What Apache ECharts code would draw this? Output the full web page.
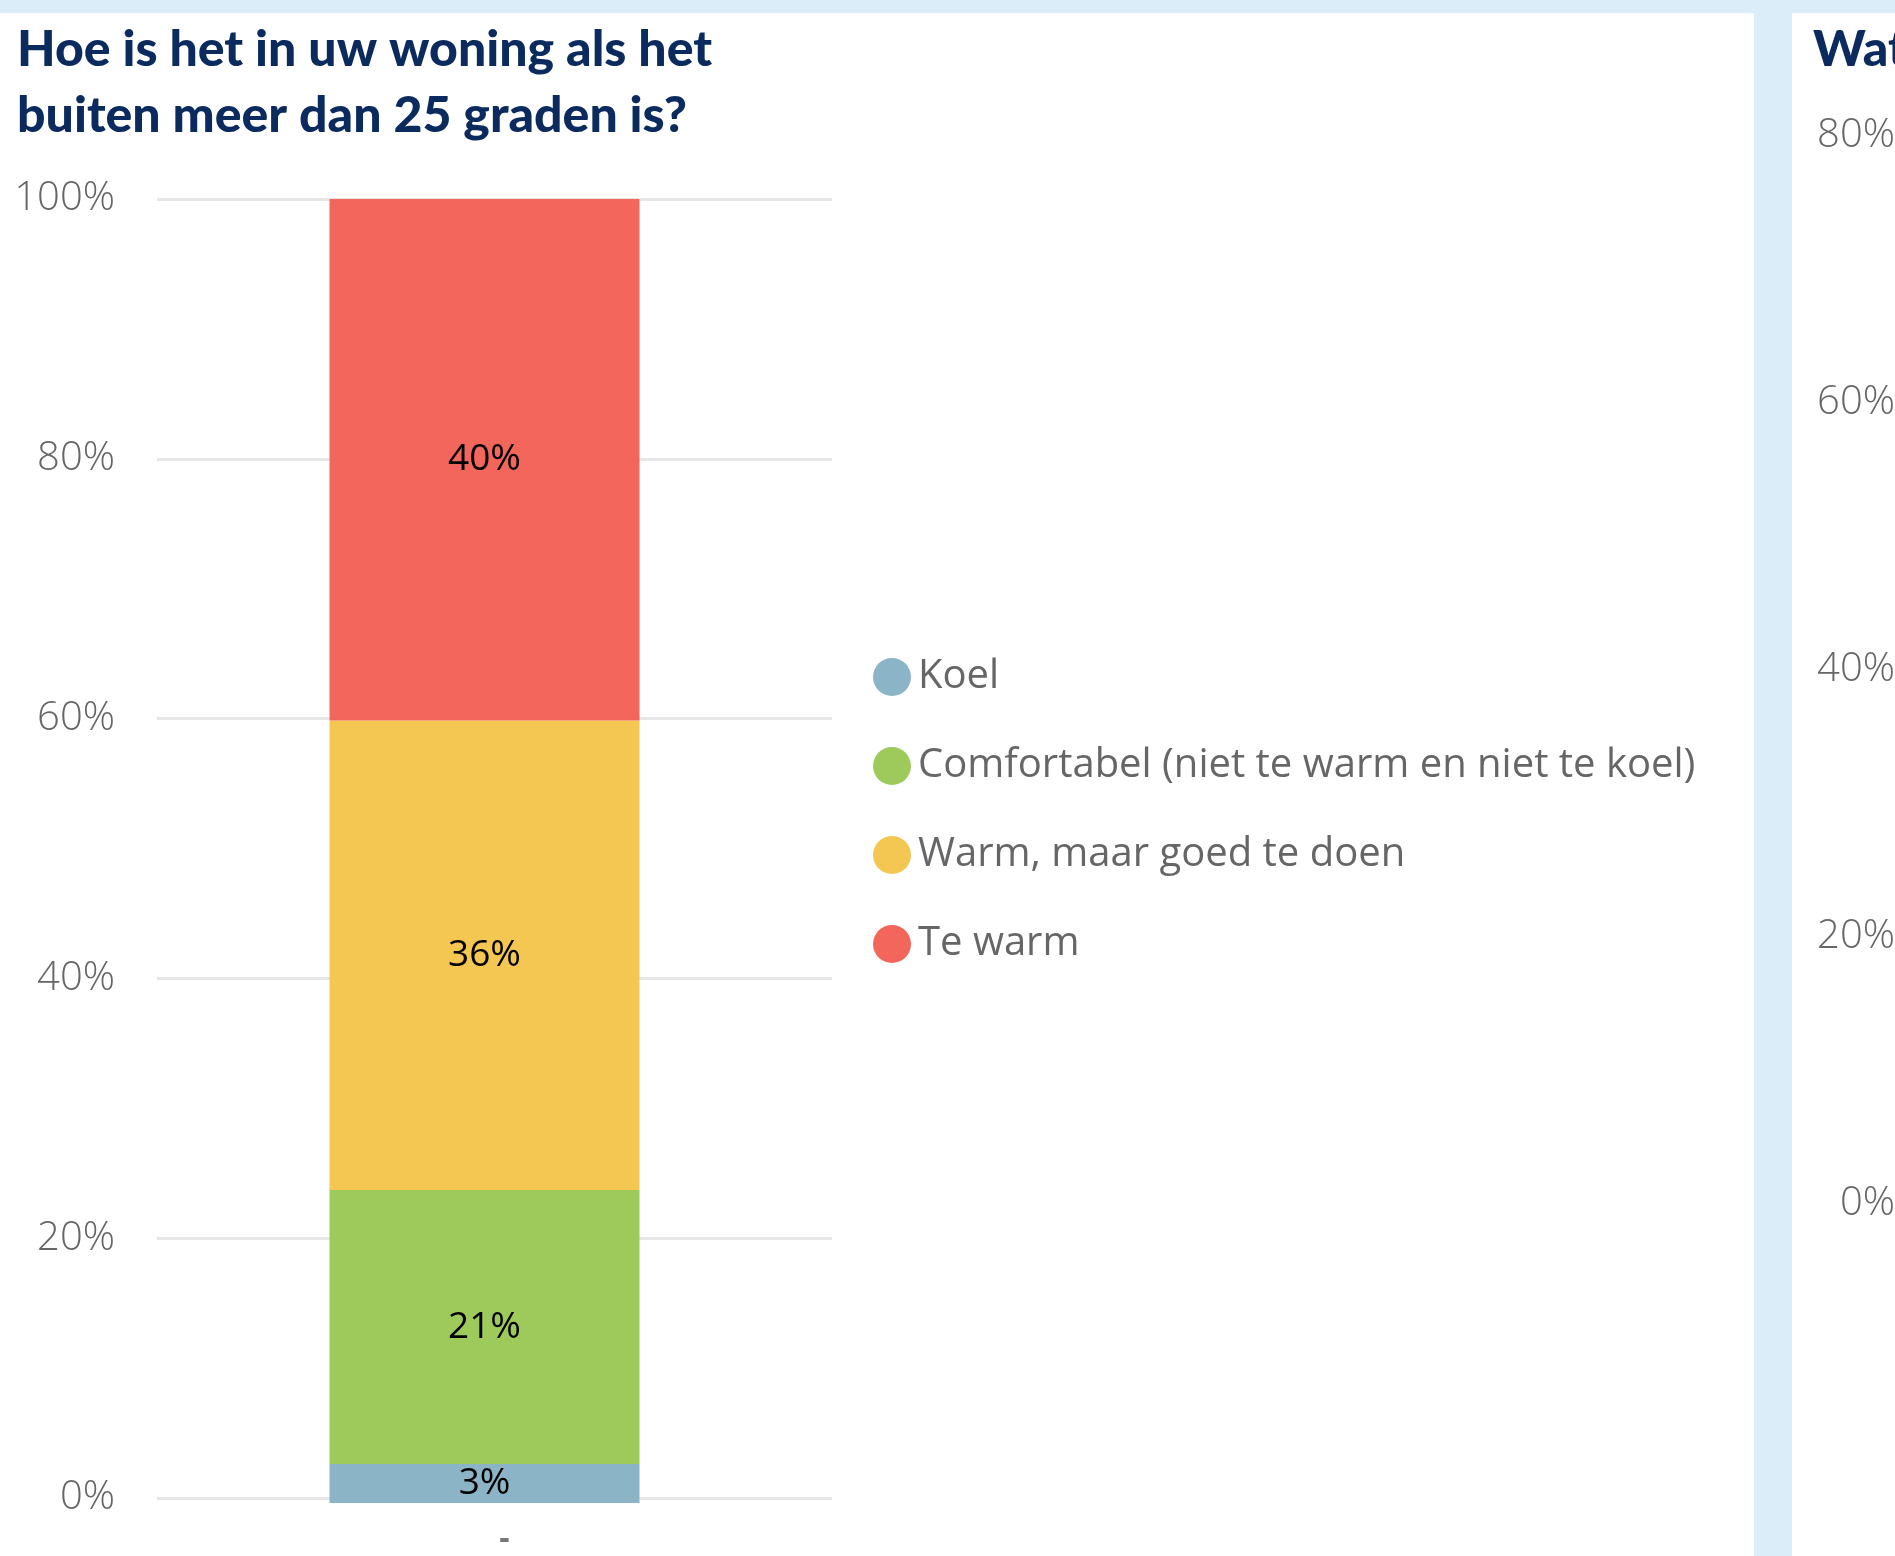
<!DOCTYPE html>
<html><head><meta charset="utf-8">
<script src="https://cdn.jsdelivr.net/npm/echarts@6/dist/echarts.min.js"></script>
<style>html,body{margin:0;padding:0;background:#DAEDF8}#c{width:1895px;height:1556px}</style>
</head><body><div id="c"></div>
<script>
const categories = ['-'];
const seriesNames = ['Koel', 'Comfortabel (niet te warm en niet te koel)', 'Warm, maar goed te doen', 'Te warm'];
const koel = [3];
const comfortabel = [21];
const warm = [36];
const teWarm = [40];
const seriesValues = [koel, comfortabel, warm, teWarm];
const colors = ['#8BB4C6', '#9ECA5C', '#F4C752', '#F3665C'];
const yTicks = [0, 20, 40, 60, 80, 100];
const rightTicks = [0, 20, 40, 60, 80];

const chart = echarts.init(document.getElementById('c'));
const labelFont = '"Open Sans", "Noto Sans", sans-serif';
const titleStyle = {fontFamily: 'Lato, "Open Sans", sans-serif', fontWeight: 900, fontSize: 50, lineHeight: 66, color: '#0B2A5E'};
chart.setOption({
  backgroundColor: '#DAEDF8',
  animation: false,
  graphic: [
    {type: 'rect', shape: {x: 0, y: 13, width: 1754, height: 1560}, style: {fill: '#ffffff'}, z: -10},
    {type: 'rect', shape: {x: 1792, y: 13, width: 200, height: 1560}, style: {fill: '#ffffff'}, z: -10}
  ],
  title: [
    {text: 'Hoe is het in uw woning als het\nbuiten meer dan 25 graden is?', left: 12, top: 12, textStyle: titleStyle},
    {text: 'Wat', left: 1808, top: 12, textStyle: titleStyle}
  ],
  legend: {
    orient: 'vertical', left: 868, top: 652, icon: 'circle', itemWidth: 38, itemHeight: 38, itemGap: 49,
    data: seriesNames,
    textStyle: {fontFamily: labelFont, fontSize: 40, color: '#666666', padding: [0, 0, 0, 2]}
  },
  grid: [
    {left: 157, top: 199, width: 675, height: 1304},
    {left: 1905, top: 136, width: 300, height: 1068},
    {left: 147, top: 199, width: 675, height: 1304}
  ],
  xAxis: [
    {type: 'category', gridIndex: 0, data: categories, axisLine: {show: false}, axisTick: {show: false},
     axisLabel: {fontFamily: labelFont, fontSize: 32, fontWeight: 'bold', color: '#777777', margin: 26, padding: [0, 0, 0, 20]}},
    {type: 'category', gridIndex: 1, data: categories, show: false},
    {type: 'category', gridIndex: 2, data: categories, show: false}
  ],
  yAxis: [
    {type: 'value', gridIndex: 0, min: 0, max: 100, interval: 20,
     axisLine: {show: false}, axisTick: {show: false},
     splitLine: {lineStyle: {color: '#E6E6E6', width: 3}},
     axisLabel: {fontFamily: labelFont, fontWeight: 300, fontSize: 40, color: '#666666', margin: 42,
       formatter: v => yTicks.includes(v) ? v + '%' : ''}},
    {type: 'value', gridIndex: 1, min: 0, max: 80, interval: 20,
     axisLine: {show: false}, axisTick: {show: false}, splitLine: {show: false},
     axisLabel: {fontFamily: labelFont, fontWeight: 300, fontSize: 40, color: '#666666', margin: 10,
       formatter: v => rightTicks.includes(v) ? v + '%' : ''}},
    {type: 'value', gridIndex: 2, min: 0, max: 100, interval: 20, show: false}
  ],
  series: seriesNames.map((name, i) => ({
    name: name, type: 'bar', stack: 'total', xAxisIndex: 2, yAxisIndex: 2,
    barWidth: 310, data: seriesValues[i],
    itemStyle: {color: colors[i]},
    label: {show: true, position: 'inside', formatter: '{c}%', fontFamily: labelFont, fontSize: 37, color: '#000000'}
  }))
});
</script></body></html>
